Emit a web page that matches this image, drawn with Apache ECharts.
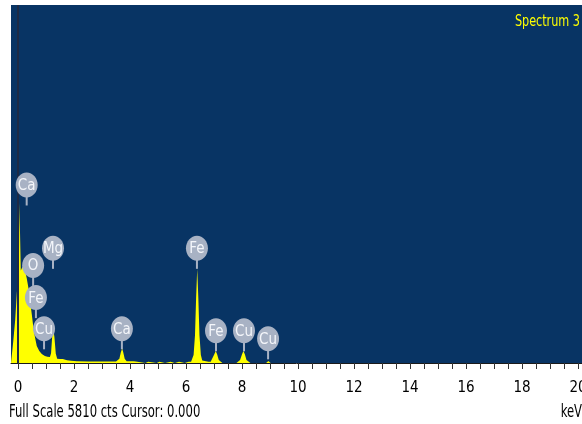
<!DOCTYPE html>
<html>
<head>
<meta charset="utf-8">
<script src="https://cdn.jsdelivr.net/npm/echarts@6/dist/echarts.min.js"></script>
<style>html,body{margin:0;padding:0;background:#fff}#c{width:582px;height:424px}</style>
</head>
<body>
<div id="c"></div>
<script>
// Spectrum (energy in keV, counts)
const energy = [-0.25,-0.2,-0.17,-0.1,-0.04,0.03,0.05,0.08,0.10,0.14,0.21,0.26,0.31,0.37,0.43,0.49,0.55,0.61,0.67,0.76,0.85,0.96,1.05,1.14,1.18,1.22,1.26,1.30,1.35,1.40,1.5,1.6,1.75,1.9,2.1,2.5,3.0,3.5,3.55,3.62,3.67,3.72,3.76,3.81,3.88,3.95,4.0,4.06,4.12,4.2,4.25,4.55,4.57,4.65,4.67,4.95,4.97,5.05,5.07,5.25,5.27,5.45,5.47,5.6,5.62,5.75,5.77,5.95,5.97,6.1,6.18,6.22,6.27,6.32,6.36,6.40,6.44,6.48,6.53,6.58,6.62,6.8,6.88,6.95,7.01,7.06,7.11,7.17,7.24,7.3,7.8,7.87,7.93,8.0,8.05,8.1,8.16,8.22,8.3,8.86,8.9,8.94,8.98,9.02,20.14];
const counts = [0,0,350,700,1150,1450,2595,2595,1500,1540,1583,1480,1380,1224,1012,800,571,408,277,196,147,114,100,98,160,420,555,420,150,70,65,65,45,36,28,25,25,25,28,70,170,235,170,70,28,25,28,50,28,25,0,0,20,20,0,0,20,20,0,0,20,20,0,0,20,20,0,0,20,20,22,40,130,450,1050,1530,1050,450,130,40,22,20,22,50,140,196,140,50,20,0,0,18,50,140,196,140,50,18,0,0,20,33,20,0,0];

// Peak labels
const labelNames = ['Ca','O','Fe','Cu','Mg','Ca','Fe','Fe','Cu','Cu'];
const labelEnergy = [0.31,0.54,0.64,0.93,1.25,3.71,6.39,7.07,8.07,8.93];
const labelCounts = [2889,1583,1061,555,1861,555,1861,522,522,392];

// Axis
const tickLabels = [0,2,4,6,8,10,12,14,16,18,20];
const tickMarks = [];
for (let i = 0; i <= 40; i++) tickMarks.push(i * 0.5);
const fullScale = 5810;

const FONT = "'Liberation Sans Narrow', 'Arial Narrow', 'DejaVu Sans Condensed', sans-serif";
const chart = echarts.init(document.getElementById('c'), null, {renderer: 'canvas'});
chart.setOption({
  animation: false,
  backgroundColor: '#ffffff',
  graphic: [
    {type: 'text', x: 580, y: 22, scaleX: 0.78, z: 10, style: {text: 'Spectrum 3', fill: '#ffff00', fontFamily: FONT, fontSize: 16, align: 'right', verticalAlign: 'middle'}},
    {type: 'text', x: 9, y: 413, scaleX: 0.76, z: 10, style: {text: 'Full Scale ' + fullScale + ' cts Cursor: 0.000', fill: '#000', fontFamily: FONT, fontSize: 17, align: 'left', verticalAlign: 'middle'}},
    {type: 'text', x: 582, y: 413, scaleX: 0.76, z: 10, style: {text: 'keV', fill: '#000', fontFamily: FONT, fontSize: 17, align: 'right', verticalAlign: 'middle'}}
  ],
  grid: {left: 11, right: 0, top: 5, bottom: 61, show: true, backgroundColor: '#083464', borderWidth: 0, outerBoundsMode: 'none', containLabel: false},
  xAxis: {
    type: 'value', min: -0.25, max: 20.14,
    axisLine: {show: true, lineStyle: {color: '#1a1a1a', width: 1}},
    axisTick: {show: true, customValues: tickMarks, length: 6, lineStyle: {color: '#333'}},
    axisLabel: {customValues: tickLabels, color: '#000', fontFamily: FONT, fontSize: 15, margin: 18, hideOverlap: false},
    splitLine: {show: false}
  },
  yAxis: {type: 'value', min: 0, max: fullScale, show: false, splitLine: {show: false}},
  series: [
    {
      type: 'line',
      data: energy.map((e, i) => [e, counts[i]]),
      showSymbol: false, symbol: 'none',
      lineStyle: {width: 0},
      areaStyle: {color: '#ffff00', opacity: 1},
      markLine: {
        symbol: 'none', silent: true, label: {show: false},
        lineStyle: {color: '#1c2a46', width: 2, type: 'solid'},
        data: [{xAxis: 0}]
      },
      z: 2
    },
    {
      type: 'custom',
      data: labelEnergy.map((e, i) => [e, labelCounts[i]]),
      encode: {x: 0, y: 1},
      z: 5,
      renderItem: function (params, api) {
        const p = api.coord([api.value(0), api.value(1)]);
        const rx = 11, ry = 12.5;
        return {
          type: 'group',
          children: [
            {type: 'line', shape: {x1: p[0], y1: p[1] + ry - 2, x2: p[0], y2: p[1] + ry + 8}, style: {stroke: '#a8b2c4', lineWidth: 2}},
            {type: 'ellipse', shape: {cx: p[0], cy: p[1], rx: rx, ry: ry}, style: {fill: '#a8b2c4'}},
            {type: 'text', x: p[0], y: p[1] + 1, style: {text: labelNames[params.dataIndex], fill: '#f4f6fa', fontFamily: FONT, fontSize: 15, align: 'center', verticalAlign: 'middle'}}
          ]
        };
      }
    }
  ]
});
</script>
</body>
</html>
